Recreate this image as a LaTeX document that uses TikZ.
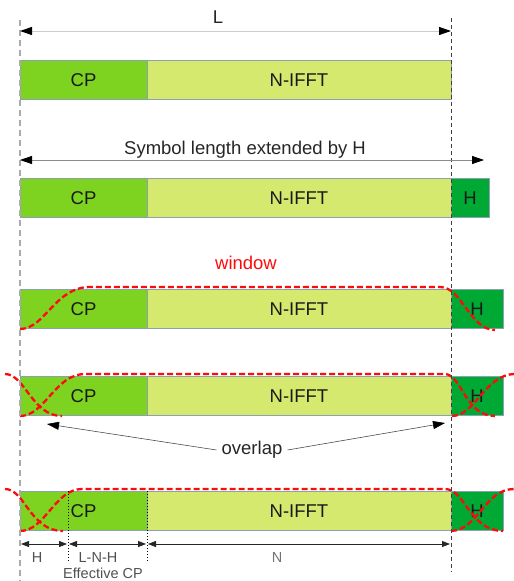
\documentclass[tikz,border=0pt]{standalone}
\usepackage{fontspec}
\setmainfont{Liberation Sans}
\usetikzlibrary{arrows.meta,calc}
\definecolor{cpgreen}{RGB}{126,211,33}
\definecolor{fftgreen}{RGB}{212,233,110}
\definecolor{hgreen}{RGB}{0,169,51}
\definecolor{segedge}{RGB}{140,160,180}
\definecolor{winred}{RGB}{255,10,10}
\definecolor{labelgray}{RGB}{80,80,80}
\begin{document}
\begin{tikzpicture}[x=1pt,y=-1pt,
  seg/.style={draw=segedge, line width=0.8pt, anchor=north west,
    minimum height=39.5pt, inner sep=0pt, outer sep=0pt,
    font=\fontsize{18.5}{20}\selectfont, text=black!90},
  cpseg/.style={seg, fill=cpgreen, minimum width=127pt},
  fftseg/.style={seg, fill=fftgreen, minimum width=304pt},
  hseg/.style={seg, fill=hgreen},
  bigtext/.style={font=\fontsize{18.5}{20}\selectfont, inner sep=2pt},
  smalltext/.style={font=\fontsize{14.5}{16}\selectfont, inner sep=1pt, text=labelgray},
  win/.style={draw=winred, line width=2.3pt, dash pattern=on 6pt off 3pt},
  bigtip/.style={-{Triangle[length=12pt,width=8pt,color=black]}},
  spanarrow/.style={{Triangle[length=12pt,width=8pt,color=black]}-{Triangle[length=12pt,width=8pt,color=black]}},
  dimarrow/.style={{Triangle[length=8pt,width=6pt]}-{Triangle[length=8pt,width=6pt]},
    line width=0.8pt, draw=black!85, shorten <=1pt, shorten >=1pt},
]
\useasboundingbox (0,0) rectangle (514,581);

% guide positions
\coordinate (gl top) at (20,20);
\coordinate (gl bot) at (20,581);
\coordinate (gr top) at (451,18);
\coordinate (gr bot) at (451,572);

% row 1: plain symbol
\node[cpseg]  (cp1)  at (20,60)  {CP};
\node[fftseg] (fft1) at (147,60) {N-IFFT};

% row 2: symbol extended by H
\node[cpseg]  (cp2)  at (20,178)  {CP};
\node[fftseg] (fft2) at (147,178) {N-IFFT};
\node[hseg, minimum width=38pt] (h2) at (451,178) {H};

% row 3: windowed symbol
\node[cpseg]  (cp3)  at (20,289)  {CP};
\node[fftseg] (fft3) at (147,289) {N-IFFT};
\node[hseg, minimum width=52pt] (h3) at (451,289) {H};

% row 4: overlapping windows
\node[cpseg]  (cp4)  at (20,376)  {CP};
\node[fftseg] (fft4) at (147,376) {N-IFFT};
\node[hseg, minimum width=52pt] (h4) at (451,376) {H};

% row 5: effective CP
\node[cpseg]  (cp5)  at (20,491)  {CP};
\node[fftseg] (fft5) at (147,491) {N-IFFT};
\node[hseg, minimum width=52pt] (h5) at (451,491) {H};

% labels
\node[bigtext, text=black!85] (lbl L) at (218,17) {L};
\node[bigtext, text=black!85] (lbl ext) at (245,150) {Symbol length extended by H};
\node[bigtext, text=winred] (lbl win) at (246,263) {window};
\node[bigtext, text=black!85, inner sep=5pt] (lbl ov) at (252,450) {overlap};

% window shapes
\draw[win] (20,329) .. controls (45,329) and (55,287) .. (90,287) -- (440,287)
  .. controls (462,287) and (470,330) .. (495,330);

\draw[win] (5,374) .. controls (25,374) and (32,416) .. (62,416);
\draw[win] (20,416) .. controls (45,416) and (55,374) .. (85,374) -- (445,374)
  .. controls (462,375) and (465,416) .. (495,416);
\draw[win] (452,416) .. controls (475,416) and (485,375) .. (514,374);

\draw[win] (5,489) .. controls (25,489) and (30,531) .. (63,531);
\draw[win] (20,531) .. controls (45,531) and (55,489) .. (82,489) -- (445,489)
  .. controls (465,489) and (470,531) .. (503,531);
\draw[win] (451,531) .. controls (478,530) and (485,489) .. (514,489);

% guide lines
\draw[draw=black!33, line width=1.4pt, dash pattern=on 6pt off 4pt] (gl top) -- (gl bot);
\draw[draw=black!75, line width=0.9pt, dash pattern=on 4pt off 3pt] (gr top) -- (gr bot);

% span arrows
\draw[spanarrow, draw=black!20, line width=1pt] (gl top |- 0,31) -- (gr top |- 0,31);
\coordinate (ext end) at (484,160);
\draw[spanarrow, draw=black!45, line width=0.8pt] (gl top |- ext end) -- (ext end);

% overlap pointers
\coordinate (ov left) at (47,424);
\coordinate (ov right) at (445,423);
\draw[bigtip, draw=black!70, line width=0.6pt] (lbl ov.west) -- (ov left);
\draw[bigtip, draw=black!70, line width=0.6pt] (lbl ov.east) -- (ov right);

% effective CP boundaries
\coordinate (eff end) at (68,562);
\coordinate (cp end) at (147,562);
\draw[dotted, line width=1pt] (68,491) -- (eff end);
\draw[dotted, line width=1pt] (147,491) -- (cp end);

% dimension arrows
\coordinate (d0) at (20,544);
\coordinate (d1) at (68,544);
\coordinate (d2) at (147,544);
\coordinate (d3) at (451,544);
\draw[dimarrow] (d0) -- (d1);
\draw[dimarrow] (d1) -- (d2);
\draw[dimarrow] (d2) -- (d3);

\node[smalltext] (lbl H) at (37,558) {H};
\node[smalltext] (lbl LNH) at (98,557.5) {L-N-H};
\node[smalltext] (lbl eff) at (103,573.5) {Effective CP};
\node[smalltext, text=black!55] (lbl N) at (277,558) {N};
\end{tikzpicture}
\end{document}
